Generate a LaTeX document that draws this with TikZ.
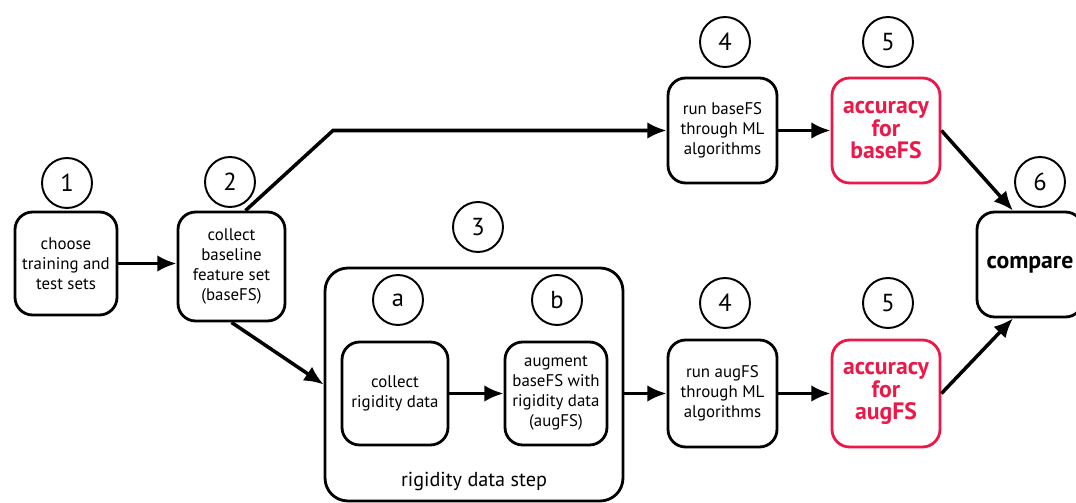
\documentclass[tikz,border=0pt]{standalone}
\usepackage{fontspec}
\setmainfont{PT Sans}
\usepackage{tikz}
\usetikzlibrary{positioning, arrows.meta, calc}
\definecolor{accred}{RGB}{236, 24, 72}

\tikzset{
  stepbox/.style={draw, line width=1.6pt, rounded corners=10pt, align=center,
        font=\fontsize{9.6}{11.4}\selectfont, inner sep=2pt},
  accbox/.style={stepbox, draw=accred, text=accred,
        font=\fontsize{13.5}{12.8}\selectfont\bfseries},
  numcirc/.style={draw, circle, line width=1.1pt, minimum size=1cm,
        inner sep=0pt, font=\fontsize{14}{14}\selectfont},
  flow/.style={-{Latex[length=11pt, width=9.5pt]}, line width=2pt},
}

\begin{document}
\begin{tikzpicture}[x=0.02cm, y=-0.02cm]
  \useasboundingbox (0,0) rectangle (1076,503);

  % first two steps
  \node[stepbox, minimum width=2.04cm, minimum height=2.06cm] (choose) at (66,263.5)
    {choose\\training and\\test sets};
  \node[numcirc] (c1) at (67,183) {1};
  \node[stepbox, minimum width=2.14cm, minimum height=2.18cm] (base) at (231.5,266.5)
    {collect\\baseline\\feature set\\(baseFS)};
  \node[numcirc] (c2) at (230,182) {2};

  % rigidity data step
  \node[stepbox, rounded corners=13pt, minimum width=5.96cm, minimum height=4.66cm] (rig) at (474,384.5) {};
  \node[numcirc] (c3) at (478,227) {3};
  \node[font=\fontsize{11.5}{13}\selectfont] (riglabel) at (474,481) {rigidity data step};
  \node[stepbox, minimum width=2.12cm, minimum height=2.06cm] (collrig) at (395,393.5)
    {collect\\rigidity data};
  \node[numcirc] (ca) at (398,300) {a};
  \node[stepbox, minimum width=2.04cm, minimum height=2.06cm] (augm) at (556,393.5)
    {augment\\baseFS with\\rigidity data\\(augFS)};
  \node[numcirc] (cb) at (557,300) {b};

  % ML runs
  \node[stepbox, minimum width=2.18cm, minimum height=2.1cm] (runbase) at (722.5,130.5)
    {run baseFS\\through ML\\algorithms};
  \node[numcirc] (c4t) at (725,42) {4};
  \node[stepbox, minimum width=2.18cm, minimum height=2.14cm] (runaug) at (722.5,393.5)
    {run augFS\\through ML\\algorithms};
  \node[numcirc] (c4b) at (725,303) {4};

  % accuracies
  \node[accbox, minimum width=2.16cm, minimum height=2.1cm] (accbase) at (886,130.5)
    {accuracy\\for\\baseFS};
  \node[numcirc] (c5t) at (888,42) {5};
  \node[accbox, minimum width=2.16cm, minimum height=2.14cm] (accaug) at (886,393.5)
    {accuracy\\for\\augFS};
  \node[numcirc] (c5b) at (888,303) {5};

  % compare
  \node[stepbox, font=\fontsize{13.5}{13}\selectfont\bfseries,
        minimum width=2.12cm, minimum height=2.1cm] (comp) at (1030,264.5) {compare};
  \node[numcirc] (c6) at (1040,182) {6};

  % connectors
  \coordinate (bend) at (333,130.5);
  \draw[flow] (choose.east) -- (base.west |- choose.east);
  \draw[flow] ([xshift=0.28cm]base.north) -- (bend) -- (runbase.west);
  \draw[flow] (base.south) -- (rig.west);
  \draw[flow] (collrig) -- (augm);
  \draw[flow] (runaug.west -| rig.east) -- (runaug.west);
  \draw[flow] (runbase) -- (accbase);
  \draw[flow] (runaug) -- (accaug);
  \draw[flow] (accbase.east) -- ([xshift=-0.34cm]comp.north);
  \draw[flow] (accaug.east) -- ([xshift=-0.34cm]comp.south);
\end{tikzpicture}
\end{document}
